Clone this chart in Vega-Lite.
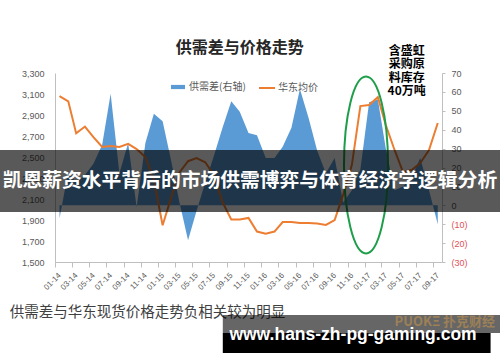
{
  "$schema": "https://vega.github.io/schema/vega-lite/v6.json",
  "width": 387,
  "height": 189,
  "autosize": {"type": "none"},
  "padding": {"left": 55, "top": 73, "right": 58, "bottom": 100},
  "background": "white",
  "config": {"view": {"stroke": null}, "font": "Noto Sans CJK SC"},
  "data": {
    "values": [
      {"month": "2014-01-01", "price": 3080, "gap": -7},
      {"month": "2014-02-01", "price": 3030, "gap": 18},
      {"month": "2014-03-01", "price": 2725, "gap": 12},
      {"month": "2014-04-01", "price": 2790, "gap": 16},
      {"month": "2014-05-01", "price": 2690, "gap": 22},
      {"month": "2014-06-01", "price": 2595, "gap": 32},
      {"month": "2014-07-01", "price": 2605, "gap": 59},
      {"month": "2014-08-01", "price": 2595, "gap": 17},
      {"month": "2014-09-01", "price": 2625, "gap": 33},
      {"month": "2014-10-01", "price": 2575, "gap": -1},
      {"month": "2014-11-01", "price": 2500, "gap": 33},
      {"month": "2014-12-01", "price": 2280, "gap": 48.5},
      {"month": "2015-01-01", "price": 1850, "gap": 44.5},
      {"month": "2015-02-01", "price": 2120, "gap": 23},
      {"month": "2015-03-01", "price": 2350, "gap": 2},
      {"month": "2015-04-01", "price": 2460, "gap": -18.5},
      {"month": "2015-05-01", "price": 2490, "gap": -3},
      {"month": "2015-06-01", "price": 2450, "gap": 12},
      {"month": "2015-07-01", "price": 2330, "gap": 26},
      {"month": "2015-08-01", "price": 2070, "gap": 41},
      {"month": "2015-09-01", "price": 1905, "gap": 55},
      {"month": "2015-10-01", "price": 1905, "gap": 49.5},
      {"month": "2015-11-01", "price": 1920, "gap": 38.3},
      {"month": "2015-12-01", "price": 1790, "gap": 37},
      {"month": "2016-01-01", "price": 1770, "gap": 25},
      {"month": "2016-02-01", "price": 1790, "gap": 25},
      {"month": "2016-03-01", "price": 1880, "gap": 31},
      {"month": "2016-04-01", "price": 1880, "gap": 41},
      {"month": "2016-05-01", "price": 1872, "gap": 61.5},
      {"month": "2016-06-01", "price": 1872, "gap": 46},
      {"month": "2016-07-01", "price": 1867, "gap": 29},
      {"month": "2016-08-01", "price": 1853, "gap": 17},
      {"month": "2016-09-01", "price": 1900, "gap": 25},
      {"month": "2016-10-01", "price": 2140, "gap": 1.5},
      {"month": "2016-11-01", "price": 2425, "gap": 8},
      {"month": "2016-12-01", "price": 2985, "gap": 19},
      {"month": "2017-01-01", "price": 2995, "gap": 54.5},
      {"month": "2017-02-01", "price": 3070, "gap": 56},
      {"month": "2017-03-01", "price": 2805, "gap": 30},
      {"month": "2017-04-01", "price": 2567, "gap": 8},
      {"month": "2017-05-01", "price": 2357, "gap": 10},
      {"month": "2017-06-01", "price": 2376, "gap": 15},
      {"month": "2017-07-01", "price": 2443, "gap": 25},
      {"month": "2017-08-01", "price": 2567, "gap": 8},
      {"month": "2017-09-01", "price": 2824, "gap": -10}
    ]
  },
  "layer": [
    {
      "mark": {"type": "area", "opacity": 1},
      "encoding": {
        "x": {
          "field": "month",
          "type": "temporal",
          "scale": {"type": "utc", "nice": false, "domain": [{"year": 2013, "month": 12, "date": 16, "utc": true}, {"year": 2017, "month": 9, "date": 16, "utc": true}]},
          "axis": {
            "orient": "bottom",
            "title": null,
            "grid": false,
            "values": [
              {"year": 2014, "month": 1, "date": 1, "utc": true}, {"year": 2014, "month": 3, "date": 1, "utc": true}, {"year": 2014, "month": 5, "date": 1, "utc": true}, {"year": 2014, "month": 7, "date": 1, "utc": true}, {"year": 2014, "month": 9, "date": 1, "utc": true}, {"year": 2014, "month": 11, "date": 1, "utc": true},
              {"year": 2015, "month": 1, "date": 1, "utc": true}, {"year": 2015, "month": 3, "date": 1, "utc": true}, {"year": 2015, "month": 5, "date": 1, "utc": true}, {"year": 2015, "month": 7, "date": 1, "utc": true}, {"year": 2015, "month": 9, "date": 1, "utc": true}, {"year": 2015, "month": 11, "date": 1, "utc": true},
              {"year": 2016, "month": 1, "date": 1, "utc": true}, {"year": 2016, "month": 3, "date": 1, "utc": true}, {"year": 2016, "month": 5, "date": 1, "utc": true}, {"year": 2016, "month": 7, "date": 1, "utc": true}, {"year": 2016, "month": 9, "date": 1, "utc": true}, {"year": 2016, "month": 11, "date": 1, "utc": true},
              {"year": 2017, "month": 1, "date": 1, "utc": true}, {"year": 2017, "month": 3, "date": 1, "utc": true}, {"year": 2017, "month": 5, "date": 1, "utc": true}, {"year": 2017, "month": 7, "date": 1, "utc": true}, {"year": 2017, "month": 9, "date": 1, "utc": true}
            ],
            "format": "%m-%y",
            "labelAngle": -45,
            "labelAlign": "right",
            "labelBaseline": "middle",
            "labelFontSize": 8,
            "labelFont": "Liberation Sans",
            "labelColor": "#595959",
            "labelPadding": 7,
            "labelOverlap": false,
            "labelFlush": false,
            "tickOffset": -4.3,
            "labelOffset": 4.3,
            "tickSize": 5,
            "tickColor": "#bfbfbf",
            "domainColor": "#bfbfbf"
          }
        },
        "y": {
          "field": "gap",
          "type": "quantitative",
          "scale": {"domain": [-30, 70], "nice": false, "zero": false},
          "axis": {
            "orient": "right",
            "title": null,
            "grid": false,
            "values": [-30, -20, -10, 0, 10, 20, 30, 40, 50, 60, 70],
            "labelExpr": "datum.value < 0 ? '(' + abs(datum.value) + ')' : datum.label",
            "labelColor": {"condition": {"test": "datum.value < 0", "value": "#e0505a"}, "value": "#595959"},
            "labelFontSize": 9,
            "labelFont": "Liberation Sans",
            "labelPadding": 6,
            "labelOverlap": false,
            "tickSize": 3,
            "tickColor": "#bfbfbf",
            "domainColor": "#bfbfbf"
          }
        },
        "fill": {
          "datum": "供需差(右轴)",
          "scale": {"range": ["#5b9bd5"]},
          "legend": {
            "orient": "none",
            "legendX": 115,
            "legendY": 6,
            "title": null,
            "symbolType": "M-1,-0.3H1V0.3H-1Z",
            "symbolSize": 196,
            "symbolOpacity": 1,
            "labelFontSize": 10,
            "labelColor": "#595959",
            "labelFont": "Noto Sans CJK SC",
            "labelOffset": 3
          }
        }
      }
    },
    {
      "layer": [
        {
          "mark": {"type": "line", "strokeWidth": 2},
          "encoding": {
            "x": {"field": "month", "type": "temporal", "axis": null, "scale": {"type": "utc", "nice": false, "domain": [{"year": 2013, "month": 12, "date": 16, "utc": true}, {"year": 2017, "month": 9, "date": 16, "utc": true}]}},
            "y": {
              "field": "price",
              "type": "quantitative",
              "scale": {"domain": [1500, 3300], "nice": false, "zero": false},
              "axis": {
                "orient": "left",
                "title": null,
                "grid": false,
                "values": [1500, 1700, 1900, 2100, 2300, 2500, 2700, 2900, 3100, 3300],
                "labelExpr": "format(datum.value, ',.0f')",
                "labelOverlap": false,
                "ticks": false,
                "labelFontSize": 9,
                "labelFont": "Liberation Sans",
                "labelColor": "#595959",
                "labelPadding": 11,
                "domainColor": "#bfbfbf"
              }
            },
            "stroke": {
              "datum": "华东均价",
              "scale": {"range": ["#ed7d31"]},
              "legend": {
                "orient": "none",
                "legendX": 203,
                "legendY": 6,
                "title": null,
                "symbolType": "stroke",
                "symbolSize": 256,
                "symbolStrokeWidth": 2,
                "labelFontSize": 10,
                "labelColor": "#595959",
                "labelFont": "Noto Sans CJK SC",
                "labelOffset": 2
              }
            }
          }
        },
        {
          "data": {"values": [{}]},
          "mark": {"type": "point", "shape": "M0,-1C0.1375,-1,0.249,-0.5523,0.249,0C0.249,0.5523,0.1375,1,0,1C-0.1375,1,-0.249,0.5523,-0.249,0C-0.249,-0.5523,-0.1375,-1,0,-1Z", "size": 31329, "filled": false, "stroke": "#1e9e4a", "strokeWidth": 2, "opacity": 1},
          "encoding": {
            "x": {"datum": {"year": 2016, "month": 12, "date": 21, "utc": true}, "type": "temporal", "axis": null},
            "y": {"datum": 2424, "type": "quantitative", "axis": null}
          }
        },
        {
          "data": {"values": [{}]},
          "mark": {"type": "rect", "color": "#000000", "opacity": 0.65},
          "encoding": {
            "x": {"datum": {"year": 2012, "month": 1, "date": 1, "utc": true}, "type": "temporal", "axis": null},
            "x2": {"datum": {"year": 2019, "month": 12, "date": 1, "utc": true}},
            "y": {"datum": 2567, "type": "quantitative", "axis": null},
            "y2": {"datum": 1977}
          }
        },
        {
          "data": {"values": [{}]},
          "mark": {"type": "text", "text": "凯恩薪资水平背后的市场供需博弈与体育经济学逻辑分析", "font": "Noto Sans CJK SC", "fontWeight": "bold", "fontSize": 19.8, "color": "#ffffff", "align": "center", "baseline": "middle"},
          "encoding": {
            "x": {"datum": {"year": 2015, "month": 11, "date": 6, "utc": true}, "type": "temporal", "axis": null},
            "y": {"datum": 2271, "type": "quantitative", "axis": null}
          }
        },
        {
          "data": {"values": [{}]},
          "mark": {"type": "text", "text": "供需差与价格走势", "font": "Noto Sans CJK SC", "fontWeight": "bold", "fontSize": 16, "color": "#262626", "align": "center", "baseline": "middle"},
          "encoding": {
            "x": {"datum": {"year": 2015, "month": 10, "date": 1, "utc": true}, "type": "temporal", "axis": null},
            "y": {"datum": 3538, "type": "quantitative", "axis": null}
          }
        },
        {
          "data": {"values": [{}]},
          "mark": {"type": "text", "text": ["含盛虹", "采购原", "料库存", "40万吨"], "font": "Noto Sans CJK SC", "fontWeight": "bold", "fontSize": 12, "lineHeight": 13.4, "color": "#000000", "align": "center", "baseline": "top"},
          "encoding": {
            "x": {"datum": {"year": 2017, "month": 5, "date": 14, "utc": true}, "type": "temporal", "axis": null},
            "y": {"datum": 3557, "type": "quantitative", "axis": null}
          }
        },
        {
          "data": {"values": [{}]},
          "mark": {"type": "text", "text": "供需差与华东现货价格走势负相关较为明显", "font": "Noto Sans CJK SC", "fontSize": 14.5, "color": "#404040", "align": "left", "baseline": "middle"},
          "encoding": {
            "x": {"datum": {"year": 2013, "month": 7, "date": 9, "utc": true}, "type": "temporal", "axis": null},
            "y": {"datum": 1014, "type": "quantitative", "axis": null}
          }
        },
        {
          "data": {"values": [{}]},
          "mark": {"type": "rect", "color": "#000000", "opacity": 0.6},
          "encoding": {
            "x": {"datum": {"year": 2015, "month": 8, "date": 2, "utc": true}, "type": "temporal", "axis": null},
            "x2": {"datum": {"year": 2018, "month": 6, "date": 1, "utc": true}},
            "y": {"datum": 995, "type": "quantitative", "axis": null},
            "y2": {"datum": 824}
          }
        },
        {
          "data": {"values": [{}]},
          "mark": {"type": "rect", "color": "#000000", "opacity": 1},
          "encoding": {
            "x": {"datum": {"year": 2015, "month": 8, "date": 2, "utc": true}, "type": "temporal", "axis": null},
            "x2": {"datum": {"year": 2018, "month": 3, "date": 7, "utc": true}},
            "y": {"datum": 824, "type": "quantitative", "axis": null},
            "y2": {"datum": 633}
          }
        },
        {
          "data": {"values": [{}]},
          "mark": {"type": "text", "text": "PUOKΞ 扑克财经", "font": "Noto Sans CJK SC", "fontWeight": "bold", "fontSize": 13, "color": "#9c8058", "align": "center", "baseline": "middle"},
          "encoding": {
            "x": {"datum": {"year": 2017, "month": 9, "date": 26, "utc": true}, "type": "temporal", "axis": null},
            "y": {"datum": 928, "type": "quantitative", "axis": null}
          }
        },
        {
          "data": {"values": [{}]},
          "mark": {"type": "text", "text": "www.hans-zh-pg-gaming.com", "font": "Liberation Sans", "fontWeight": "bold", "fontSize": 17.5, "color": "#ffffff", "align": "center", "baseline": "middle"},
          "encoding": {
            "x": {"datum": {"year": 2016, "month": 11, "date": 5, "utc": true}, "type": "temporal", "axis": null},
            "y": {"datum": 805, "type": "quantitative", "axis": null}
          }
        }
      ],
      "resolve": {"axis": {"x": "independent", "y": "independent"}}
    }
  ],
  "resolve": {"scale": {"y": "independent"}, "axis": {"x": "independent", "y": "independent"}}
}
